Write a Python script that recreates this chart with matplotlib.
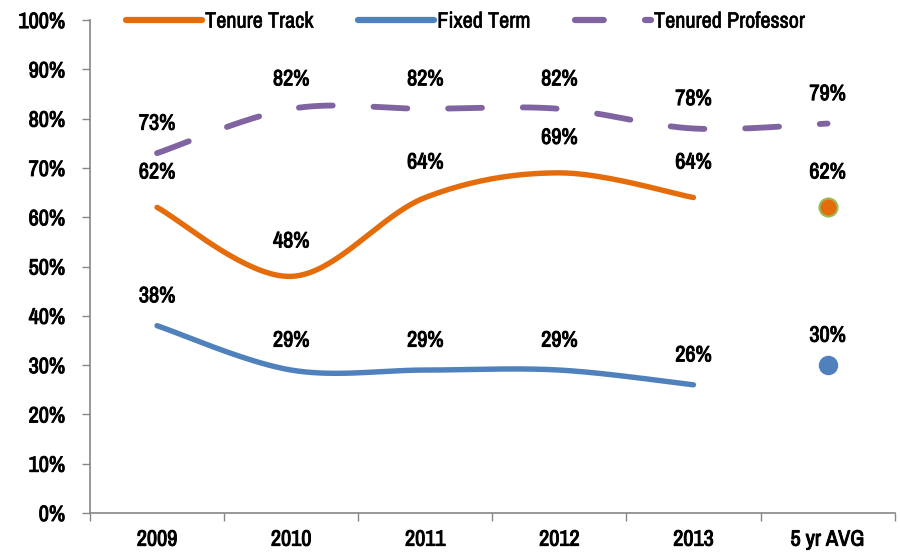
import numpy as np
import matplotlib
matplotlib.use("Agg")
import matplotlib.pyplot as plt
import matplotlib.patheffects as pe
from matplotlib.lines import Line2D

plt.rcParams['font.family'] = ['Archivo Narrow', 'DejaVu Sans']

categories = ['2009', '2010', '2011', '2012', '2013', '5 yr AVG']
tenure_track = [62, 48, 64, 69, 64]
fixed_term = [38, 29, 29, 29, 26]
tenured_prof = [73, 82, 82, 82, 78, 79]
avg_tenure_track = 62
avg_fixed_term = 30

orange = '#E46C0A'
blue = '#4F81BD'
purple = '#8064A2'
green = '#9BBB59'

# fake a heavier weight, the narrow font only has a regular cut
heavy = [pe.withStroke(linewidth=0.7, foreground='black')]


def smooth(xs, ys, n=40):
    # Catmull-Rom style smoothing, like Excel's "smoothed line"
    xs = np.asarray(xs, float)
    ys = np.asarray(ys, float)
    px = np.concatenate([[xs[0]], xs, [xs[-1]]])
    py = np.concatenate([[ys[0]], ys, [ys[-1]]])
    outx, outy = [], []
    t = np.linspace(0, 1, n)
    for i in range(1, len(px) - 2):
        p0 = np.array([px[i], py[i]])
        p3 = np.array([px[i + 1], py[i + 1]])
        p1 = p0 + (p3 - np.array([px[i - 1], py[i - 1]])) / 6
        p2 = p3 - (np.array([px[i + 2], py[i + 2]]) - p0) / 6
        b = ((1 - t) ** 3)[:, None] * p0 + (3 * (1 - t) ** 2 * t)[:, None] * p1 \
            + (3 * (1 - t) * t ** 2)[:, None] * p2 + (t ** 3)[:, None] * p3
        outx.extend(b[:, 0])
        outy.extend(b[:, 1])
    return np.array(outx), np.array(outy)


fig = plt.figure(figsize=(9, 5.57), dpi=100)
ax = fig.add_axes([0.1, 0.079, 0.894, 0.885])

x5 = np.arange(5)
x6 = np.arange(6)

sx, sy = smooth(x5, tenure_track)
ax.plot(sx, sy, color=orange, lw=3.9, solid_capstyle='round')
sx, sy = smooth(x5, fixed_term)
ax.plot(sx, sy, color=blue, lw=3.9, solid_capstyle='round')
sx, sy = smooth(x6, tenured_prof)
ax.plot(sx, sy, color=purple, lw=4.2, dashes=(5.8, 7.0), dash_capstyle='round')

ax.plot([5], [avg_tenure_track], 'o', ms=13, mfc=orange, mec=green, mew=1.5)
ax.plot([5], [avg_fixed_term], 'o', ms=13, mfc=blue, mec=blue)

lab = dict(ha='center', va='bottom', fontsize=16, color='black', path_effects=heavy)
for i, v in enumerate(tenure_track + [avg_tenure_track]):
    ax.annotate(f'{v}%', (i, v), xytext=(0, 18), textcoords='offset points', **lab)
for i, v in enumerate(fixed_term + [avg_fixed_term]):
    ax.annotate(f'{v}%', (i, v), xytext=(0, 14), textcoords='offset points', **lab)
for i, v in enumerate(tenured_prof):
    ax.annotate(f'{v}%', (i, v), xytext=(0, 14), textcoords='offset points', **lab)

ax.set_xlim(-0.5, 5.5)
ax.set_ylim(0, 100)
ax.set_yticks(range(0, 101, 10))
ax.set_yticklabels([f'{v}%' for v in range(0, 101, 10)])
ax.set_xticks(x6)
ax.set_xticklabels(categories)
ax.set_xticks(np.arange(-0.5, 6, 1), minor=True)
ax.tick_params(axis='x', which='major', length=0, pad=12)
ax.tick_params(axis='x', which='minor', length=6, width=1, color='#868686', direction='out')
ax.tick_params(axis='y', length=6, width=1, color='#868686', pad=12)
for lbl in ax.get_xticklabels() + ax.get_yticklabels():
    lbl.set_fontsize(16)
    lbl.set_path_effects(heavy)
for s in ['top', 'right']:
    ax.spines[s].set_visible(False)
for s in ['left', 'bottom']:
    ax.spines[s].set_color('#868686')
    ax.spines[s].set_linewidth(1.2)

handles = [
    Line2D([], [], color=orange, lw=4.5, solid_capstyle='round'),
    Line2D([], [], color=blue, lw=4.5, solid_capstyle='round'),
    Line2D([], [], color=purple, lw=4.5, dashes=(4.6, 6.6), dash_capstyle='round'),
]
leg = fig.legend(handles, ['Tenure Track', 'Fixed Term', 'Tenured Professor'],
                 loc='upper left', bbox_to_anchor=(0.118, 1.015), ncol=3, frameon=False,
                 handlelength=3.4, handletextpad=0.15, columnspacing=2.0,
                 prop={'family': 'Archivo Narrow', 'size': 16})
for t in leg.get_texts():
    t.set_path_effects([pe.withStroke(linewidth=0.4, foreground='black')])

fig.savefig('out.png', dpi=100)
